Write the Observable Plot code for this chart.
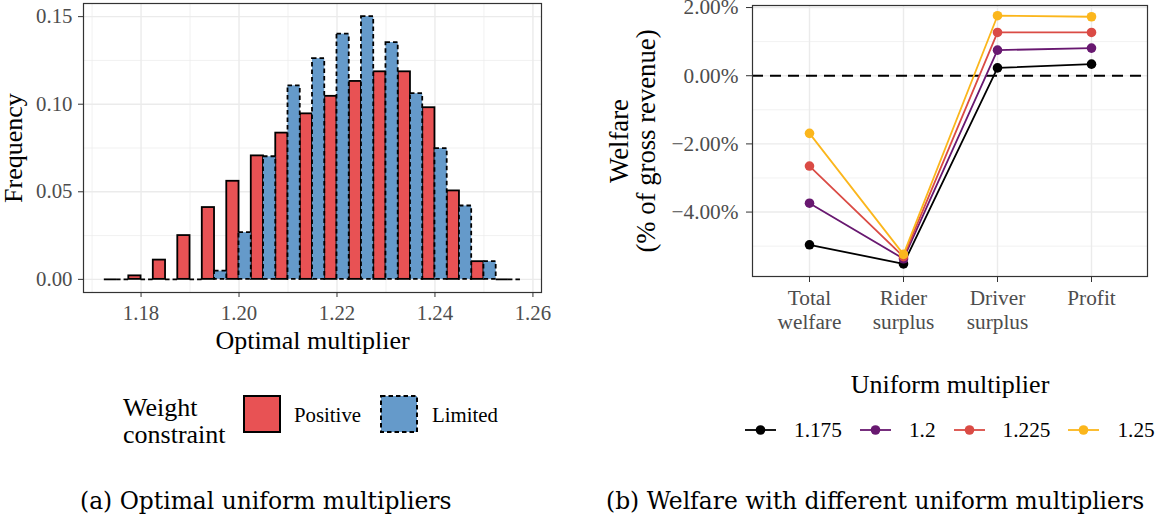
<!DOCTYPE html>
<html>
<head>
<meta charset="utf-8">
<script src="https://cdn.jsdelivr.net/npm/d3@7"></script>
<script src="https://cdn.jsdelivr.net/npm/@observablehq/plot@0.6"></script>
<style>
  html, body { margin: 0; padding: 0; background: #fff; }
  #root { position: relative; width: 1161px; height: 519px; background: #fff;
          font-family: "Liberation Serif", serif; color: #000; overflow: hidden; }
  .abs { position: absolute; white-space: nowrap; font-family: "Liberation Serif", serif; }
  .plot { position: absolute; top: 0; }
  .caption { font-family: "DejaVu Serif", serif; font-size: 23.4px; line-height: 28px; }
</style>
</head>
<body>
<div id="root">
  <div id="panelA" class="plot" style="left:0px"></div>
  <div id="panelB" class="plot" style="left:590px"></div>

  <!-- legend for the histogram -->
  <div class="abs" style="left:123px; top:394px; font-size:26px; line-height:27px;">Weight<br>constraint</div>
  <div id="legendA"></div>

  <!-- legend for the welfare lines -->
  <div class="abs" style="left:800px; width:300px; top:371px; font-size:26px; line-height:28px; text-align:center;">Uniform multiplier</div>
  <div id="legendB" class="abs" style="left:745px; top:416px; height:28px; display:flex; align-items:center; font-size:21.3px;"></div>

  <!-- subfigure captions -->
  <div class="abs caption" style="left:80px; top:487px;">(a) Optimal uniform multipliers</div>
  <div class="abs caption" style="left:606px; top:487px;">(b) Welfare with different uniform multipliers</div>
</div>

<script>
// ---------- Panel (a): distribution of optimal uniform multipliers ----------
const binCenters = [1.175, 1.18, 1.185, 1.19, 1.195, 1.20, 1.205, 1.21, 1.215,
                    1.22, 1.225, 1.23, 1.235, 1.24, 1.245, 1.25, 1.255];
const freqPositive = [0, 0.002, 0.011, 0.025, 0.041, 0.056, 0.0705, 0.0835, 0.0945,
                      0.1045, 0.113, 0.1185, 0.1185, 0.098, 0.0505, 0.0101, 0];
const freqLimited  = [0, 0, 0, 0, 0.0047, 0.0267, 0.070, 0.1105, 0.126,
                      0.140, 0.150, 0.1352, 0.106, 0.0747, 0.0419, 0.0101, 0];
const constraintNames = ["Positive", "Limited"];
const constraintFills = ["#E85254", "#659ACA"];
const constraintDash = [null, "4.5,3"];
const binWidth = 0.005;
const freqTicks = [0, 0.05, 0.10, 0.15];
const freqMinor = [0.025, 0.075, 0.125];
const multTicks = [1.18, 1.20, 1.22, 1.24, 1.26];
const multMinor = [1.17, 1.19, 1.21, 1.23, 1.25];

// Dodged histogram: Positive in the left half of each bin, Limited in the right half
const posRows = binCenters.map((c, i) => ({x1: c - binWidth / 2, x2: c, v: freqPositive[i]}));
const limRows = binCenters.map((c, i) => ({x1: c, x2: c + binWidth / 2, v: freqLimited[i]}));

const gridColor = "#EBEBEB";

const plotA = Plot.plot({
  width: 545,
  height: 355,
  marginLeft: 83,
  marginRight: 4,
  marginTop: 3,
  marginBottom: 63,
  x: {domain: [1.16825, 1.26175]},
  y: {domain: [-0.0075, 0.1575]},
  style: {fontFamily: "Liberation Serif", fontSize: "20.8px", background: "white", overflow: "visible"},
  marks: [
    Plot.gridX(multMinor, {stroke: gridColor, strokeOpacity: 1, strokeWidth: 0.7}),
    Plot.gridX(multTicks, {stroke: gridColor, strokeOpacity: 1, strokeWidth: 1.4}),
    Plot.gridY(freqMinor, {stroke: gridColor, strokeOpacity: 1, strokeWidth: 0.7}),
    Plot.gridY(freqTicks, {stroke: gridColor, strokeOpacity: 1, strokeWidth: 1.4}),
    Plot.rectY(posRows.filter(d => d.v > 0), {x1: "x1", x2: "x2", y1: 0, y2: "v",
      fill: constraintFills[0], stroke: "#000", strokeWidth: 1.8}),
    Plot.ruleY(posRows.filter(d => d.v === 0), {x1: "x1", x2: "x2", y: 0,
      stroke: "#000", strokeWidth: 1.8}),
    Plot.rectY(limRows.filter(d => d.v > 0), {x1: "x1", x2: "x2", y1: 0, y2: "v",
      fill: constraintFills[1], stroke: "#000", strokeWidth: 1.8, strokeDasharray: constraintDash[1]}),
    Plot.ruleY(limRows.filter(d => d.v === 0), {x1: "x1", x2: "x2", y: 0,
      stroke: "#000", strokeWidth: 1.8, strokeDasharray: constraintDash[1]}),
    Plot.frame({stroke: "#333", strokeWidth: 1.2}),
    Plot.axisX(multTicks, {tickSize: 5, tickPadding: 8, stroke: "#333", fill: "#4D4D4D",
      label: null, tickFormat: d => d.toFixed(2)}),
    Plot.axisY(freqTicks, {tickSize: 5, tickPadding: 6, stroke: "#333", fill: "#4D4D4D",
      label: null, tickFormat: d => d.toFixed(2)}),
    Plot.text(["Optimal multiplier"], {frameAnchor: "bottom", dy: 48, fontSize: 26, fill: "#000",
      textAnchor: "middle", lineAnchor: "middle"}),
    Plot.text(["Frequency"], {frameAnchor: "left", dx: -70, rotate: -90, fontSize: 26, fill: "#000",
      textAnchor: "middle", lineAnchor: "middle"})
  ]
});
document.getElementById("panelA").appendChild(plotA);

// Legend keys for panel (a)
const legendA = document.getElementById("legendA");
const keyLeft = [243, 380];
const labelLeft = [294, 432];
constraintNames.forEach((name, i) => {
  const key = document.createElement("div");
  key.className = "abs";
  key.style.cssText = `left:${keyLeft[i]}px; top:395px; width:38px; height:38px;`;
  key.innerHTML = `<svg width="38" height="38"><rect x="1" y="1" width="36" height="36" fill="${constraintFills[i]}"
      stroke="#000" stroke-width="2" ${constraintDash[i] ? `stroke-dasharray="${constraintDash[i]}"` : ""}/></svg>`;
  legendA.appendChild(key);
  const lab = document.createElement("div");
  lab.className = "abs";
  lab.style.cssText = `left:${labelLeft[i]}px; top:401px; font-size:20.8px; line-height:28px;`;
  lab.textContent = name;
  legendA.appendChild(lab);
});

// ---------- Panel (b): welfare under different uniform multipliers ----------
const categories = ["Total welfare", "Rider surplus", "Driver surplus", "Profit"];
const categoryLabels = ["Total\nwelfare", "Rider\nsurplus", "Driver\nsurplus", "Profit"];
const multipliers = ["1.175", "1.2", "1.225", "1.25"];
const multiplierColors = ["#000000", "#681870", "#DA4B45", "#FBB61C"];
// welfare change, % of gross revenue
const welfare1175 = [-4.96, -5.52, 0.23, 0.34];
const welfare1200 = [-3.74, -5.37, 0.75, 0.81];
const welfare1225 = [-2.65, -5.31, 1.27, 1.27];
const welfare1250 = [-1.69, -5.24, 1.76, 1.73];
const welfareTicks = [-4, -2, 0, 2];
const welfareMinor = [-5, -3, -1, 1];

const series = [welfare1175, welfare1200, welfare1225, welfare1250];
const welfareRows = series.flatMap((vals, s) =>
  categories.map((c, i) => ({category: c, value: vals[i], multiplier: multipliers[s]})));

const pct = d => (d < 0 ? "\u2212" : "") + Math.abs(d).toFixed(2) + "%";

const plotB = Plot.plot({
  width: 571,
  height: 341,
  marginLeft: 162,
  marginRight: 14,
  marginTop: 5,
  marginBottom: 65,
  x: {type: "point", domain: categories, padding: 0.6},
  y: {domain: [-5.89, 2.06]},
  color: {domain: multipliers, range: multiplierColors},
  style: {fontFamily: "Liberation Serif", fontSize: "21.3px", background: "white", overflow: "visible"},
  marks: [
    Plot.gridX(categories, {stroke: gridColor, strokeOpacity: 1, strokeWidth: 1.4}),
    Plot.gridY(welfareMinor, {stroke: gridColor, strokeOpacity: 1, strokeWidth: 0.7}),
    Plot.gridY(welfareTicks, {stroke: gridColor, strokeOpacity: 1, strokeWidth: 1.4}),
    Plot.ruleY([0], {stroke: "#000", strokeWidth: 2, strokeDasharray: "11,7"}),
    Plot.line(welfareRows, {x: "category", y: "value", z: "multiplier", stroke: "multiplier", strokeWidth: 1.8}),
    Plot.dot(welfareRows, {x: "category", y: "value", fill: "multiplier", r: 4.8}),
    Plot.frame({stroke: "#333", strokeWidth: 1.2}),
    Plot.axisX(categories, {tickSize: 6, tickPadding: 5, stroke: "#333", fill: "#4D4D4D", label: null,
      lineHeight: 1.13, tickFormat: d => categoryLabels[categories.indexOf(d)]}),
    Plot.axisY(welfareTicks, {tickSize: 6, tickPadding: 8, stroke: "#333", fill: "#4D4D4D", label: null,
      tickFormat: pct}),
    Plot.text(["Welfare\n(% of gross revenue)"], {frameAnchor: "left", dx: -120, rotate: -90,
      fontSize: 26.7, lineHeight: 1.03, fill: "#000", textAnchor: "middle", lineAnchor: "middle"})
  ]
});
document.getElementById("panelB").appendChild(plotB);

// Legend keys for panel (b)
const legendB = document.getElementById("legendB");
multipliers.forEach((m, i) => {
  const key = document.createElement("span");
  key.style.cssText = "display:inline-block; width:31px; height:20px; margin-right:18px;";
  key.innerHTML = `<svg width="31" height="20"><line x1="0" y1="10" x2="31" y2="10" stroke="${multiplierColors[i]}" stroke-width="1.8"/>
      <circle cx="15.5" cy="10" r="4.8" fill="${multiplierColors[i]}"/></svg>`;
  legendB.appendChild(key);
  const lab = document.createElement("span");
  lab.style.cssText = "display:inline-block; margin-right:18px;";
  lab.textContent = m;
  legendB.appendChild(lab);
});
</script>
</body>
</html>
